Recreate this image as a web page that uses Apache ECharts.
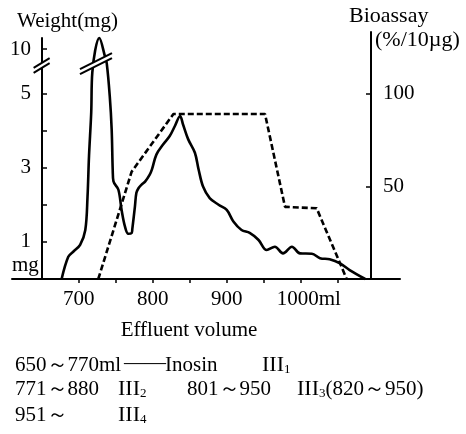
<!DOCTYPE html>
<html><head><meta charset="utf-8">
<script src="https://cdn.jsdelivr.net/npm/echarts@6/dist/echarts.min.js"></script>
<style>html,body{margin:0;padding:0;background:#fff}#c{width:466px;height:434px}</style>
</head><body><div id="c"></div>
<script>
// Weight (mg) vs effluent volume (ml) — solid curve
const weightVolume = [677,686,693,702,709,712,714,717,718.5,728,735.6,738,742,744.6,746,747,753.6,758,762.6,767,771.6,772.5,776,778,781,785,790,796,799,805,814,823,830,837,841,848,857,862,868,877,889,900,909,920,931,943,954,965,976,988,999,1015,1026,1039,1053,1066,1087];
const weightMg     = [0,0.60,0.74,0.92,1.32,2.22,3.31,4.49,5.57,10.3,9.8,5.8,4.93,4.03,2.95,2.63,2.41,1.86,1.41,1.22,1.24,1.35,1.95,2.32,2.45,2.54,2.63,2.81,2.95,3.35,3.62,3.85,4.12,4.39,4.16,3.76,3.40,2.95,2.49,2.18,2.00,1.86,1.55,1.32,1.24,1.05,0.78,0.87,0.69,0.87,0.69,0.68,0.56,0.53,0.42,0.24,0];
// Bioassay (%/10µg) — dashed line
const bioVolume   = [726.5,771.6,828,951.7,978.7,1021.5,1062];
const bioActivity = [0,58,89.2,89.2,39,38.2,0];
// ticks / labels
const xTickValues = [700,750,800,850,900,950,1000,1050];
const xLabelValues = [700,800,900,1000];
const weightTickValues = [1,2,3,4,5,10];
const weightLabelValues = [1,3,5,10];
const bioLabelValues = [50,100];
const weightBreakStart = 5.85, weightBreakEnd = 9.66;

const FONT = 'Liberation Serif';
const chart = echarts.init(document.getElementById('c'), null, {renderer:'canvas'});
const X_MIN = 610, X_MAX = 1134;
const axisLine = {show:true, onZero:false, lineStyle:{color:'#000', width:2}};

const option = {
  backgroundColor:'#fff',
  animation:false,
  grid:[
    {left:12, right:66, top:38, bottom:155},
    {left:12, right:66, top:32, bottom:155}
  ],
  xAxis:[
    {type:'value', gridIndex:0, min:X_MIN, max:X_MAX, position:'bottom',
     axisLine:axisLine,
     axisTick:{show:true, length:4, customValues:xTickValues, lineStyle:{color:'#000', width:1.5}},
     axisLabel:{customValues:xLabelValues, margin:10, color:'#000', fontFamily:FONT, fontSize:21,
       formatter:function(v){ return v===1000 ? '{a|1000ml}' : String(v); },
       rich:{a:{fontFamily:FONT, fontSize:21, color:'#000', padding:[0,0,0,16]}}},
     splitLine:{show:false}},
    {type:'value', gridIndex:1, min:X_MIN, max:X_MAX, show:false, splitLine:{show:false}}
  ],
  yAxis:[
    {type:'value', gridIndex:0, min:0, max:10.3, position:'left', offset:-30,
     breaks:[{start:weightBreakStart, end:weightBreakEnd, gap:0}],
     breakArea:{show:false},
     axisLine:axisLine,
     axisTick:{show:true, inside:true, length:5, customValues:weightTickValues, lineStyle:{color:'#000', width:1.5}},
     axisLabel:{customValues:weightLabelValues, margin:11, color:'#000', fontFamily:FONT, fontSize:21},
     splitLine:{show:false}},
    {type:'value', gridIndex:1, min:0, max:133.5, position:'right', offset:-29,
     axisLine:axisLine,
     axisTick:{show:true, inside:true, length:5, customValues:bioLabelValues, lineStyle:{color:'#000', width:1.5}},
     axisLabel:{customValues:bioLabelValues, margin:12, color:'#000', fontFamily:FONT, fontSize:21},
     splitLine:{show:false}}
  ],
  series:[
    {type:'line', xAxisIndex:0, yAxisIndex:0, smooth:0.35, showSymbol:false, clip:false,
     data:weightVolume.map((v,i)=>[v, weightMg[i]]),
     lineStyle:{color:'#000', width:2.6}, z:3},
    {type:'line', xAxisIndex:1, yAxisIndex:1, smooth:false, showSymbol:false, clip:false,
     data:bioVolume.map((v,i)=>[v, bioActivity[i]]),
     lineStyle:{color:'#000', width:2.6, type:[6,3]}, z:2}
  ]
};
chart.setOption(option);

function slash(cx, cy, hw, slope){
  const g = 5;
  const dy = hw*slope;
  const a1=[cx-hw, cy+dy-g/2], a2=[cx+hw, cy-dy-g/2];
  const b1=[cx-hw, cy+dy+g/2], b2=[cx+hw, cy-dy+g/2];
  return [
    {type:'polygon', shape:{points:[a1,a2,b2,b1]}, style:{fill:'#fff'}, z:10},
    {type:'line', shape:{x1:a1[0],y1:a1[1],x2:a2[0],y2:a2[1]}, style:{stroke:'#000', lineWidth:2}, z:11},
    {type:'line', shape:{x1:b1[0],y1:b1[1],x2:b2[0],y2:b2[1]}, style:{stroke:'#000', lineWidth:2}, z:11}
  ];
}
const pAxis = chart.convertToPixel({gridIndex:0}, [650, 5.75]);
const pPeak = chart.convertToPixel({gridIndex:0}, [723.4, 5.8]);

function txt(x, y, text, size, extra){
  return Object.assign({type:'text', x:x, y:y, z:20,
    style:{text:text, fontFamily:FONT, fontSize:size||21, fill:'#000', verticalAlign:'middle', align:'left'}}, extra||{});
}
function roman(x, y, sub, tail){
  return {type:'text', x:x, y:y, z:20,
    style:{text:'{r|III}{s|'+sub+'}'+(tail?'{t|'+tail+'}':''), verticalAlign:'middle', align:'left', fill:'#000',
      rich:{r:{fontFamily:FONT, fontSize:22, fill:'#000'},
            s:{fontFamily:FONT, fontSize:13, fill:'#000', verticalAlign:'bottom', padding:[8,0,0,0]},
            t:{fontFamily:FONT, fontSize:21, fill:'#000'}}}};
}

chart.setOption({graphic:[].concat(
  slash(pAxis[0], pAxis[1], 8, 0.6),
  slash(pPeak[0], pPeak[1], 16, 0.5),
  [
    txt(17, 21, 'Weight(mg)', 21),
    txt(12, 265, 'mg', 21),
    txt(349, 16, 'Bioassay', 22),
    txt(375, 40, '(%/10µg)', 22),
    txt(189, 330, 'Effluent volume', 21, {style:{text:'Effluent volume', fontFamily:FONT, fontSize:21, fill:'#000', verticalAlign:'middle', align:'center'}}),
    txt(15, 365, '650～770ml', 21),
    txt(124, 363, '——', 21),
    txt(165, 365, 'Inosin', 21),
    roman(262, 365, '1'),
    txt(15, 389, '771～880', 21),
    roman(118, 389, '2'),
    txt(187, 389, '801～950', 21),
    roman(297, 389, '3', '(820～950)'),
    txt(15, 415, '951～', 21),
    roman(118, 415, '4')
  ]
)});
</script>
</body></html>
